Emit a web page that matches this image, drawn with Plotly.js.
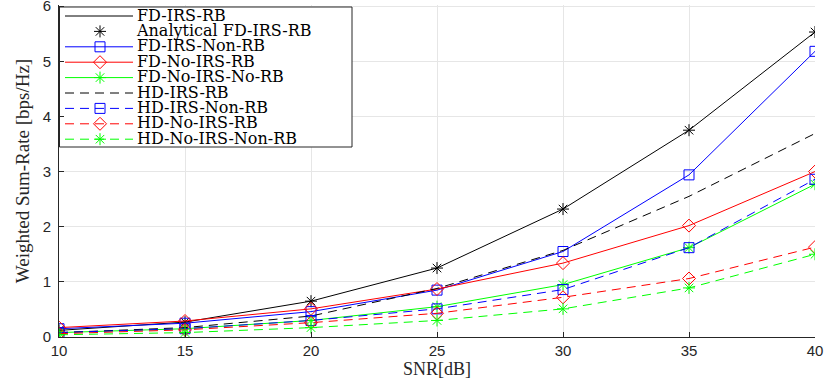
<!DOCTYPE html>
<html>
<head>
<meta charset="utf-8">
<script src="https://cdn.plot.ly/plotly-3.0.1.min.js"></script>
<style>
  body { margin: 0; background: #fff; }
  #graph { width: 831px; height: 382px; }
</style>
</head>
<body>
<div id="graph"></div>
<script>
var snr = [10, 15, 20, 25, 30, 35, 40];
var yTicks = [0, 1, 2, 3, 4, 5, 6];

var fdIrsRb = [0.12, 0.27, 0.65, 1.25, 2.32, 3.75, 5.53];
var fdIrsRbAnalytic = [0.12, 0.27, 0.65, 1.25, 2.32, 3.75, 5.53];
var fdIrsNonRb = [0.15, 0.25, 0.46, 0.85, 1.55, 2.94, 5.18];
var fdNoIrsRb = [0.17, 0.29, 0.51, 0.87, 1.34, 2.02, 3.0];
var fdNoIrsNoRb = [0.08, 0.15, 0.3, 0.55, 0.95, 1.62, 2.77];
var hdIrsRb = [0.08, 0.17, 0.38, 0.88, 1.57, 2.55, 3.69];
var hdIrsNonRb = [0.08, 0.15, 0.3, 0.51, 0.86, 1.62, 2.86];
var hdNoIrsRb = [0.06, 0.13, 0.26, 0.43, 0.72, 1.06, 1.63];
var hdNoIrsNonRb = [0.04, 0.08, 0.17, 0.3, 0.51, 0.89, 1.5];

var dashPat = '9px,6px';
var serif = 'Liberation Serif, Times New Roman, serif';

// plot box in pixels (matches the margins below)
var W = 831, H = 382, ML = 59, MR = 16, MT = 5, MB = 45;
var xRange = [10, 40], yRange = [0, 6.02];
function xOf(px) { return xRange[0] + (px - ML) / (W - ML - MR) * (xRange[1] - xRange[0]); }
function yOf(py) { return yRange[1] - (py - MT) / (H - MT - MB) * (yRange[1] - yRange[0]); }

function series(name, y, color, dash, symbol, mode) {
  var tr = {
    x: snr, y: y, name: name,
    mode: mode || (symbol ? 'lines+markers' : 'lines'),
    line: { color: color, width: 1, dash: dash }
  };
  if (symbol) tr.marker = { symbol: symbol, size: 10, color: color, line: { color: color, width: 1 } };
  return tr;
}

var data = [
  series('FD-IRS-RB', fdIrsRb, '#000000', 'solid'),
  series('Analytical FD-IRS-RB', fdIrsRbAnalytic, '#000000', 'solid', 'asterisk-open', 'markers'),
  series('FD-IRS-Non-RB', fdIrsNonRb, '#0000ff', 'solid', 'square-open'),
  series('FD-No-IRS-RB', fdNoIrsRb, '#ff0000', 'solid', 'diamond-open'),
  series('FD-No-IRS-No-RB', fdNoIrsNoRb, '#00ff00', 'solid', 'asterisk-open'),
  series('HD-IRS-RB', hdIrsRb, '#000000', dashPat),
  series('HD-IRS-Non-RB', hdIrsNonRb, '#0000ff', dashPat, 'square-open'),
  series('HD-No-IRS-RB', hdNoIrsRb, '#ff0000', dashPat, 'diamond-open'),
  series('HD-No-IRS-Non-RB', hdNoIrsNonRb, '#00ff00', dashPat, 'asterisk-open')
];

// MATLAB-style compact legend (plotly's own legend rows are too tall)
var leg = { left: 59.5, right: 352, top: 7, bottom: 147, row0: 16, step: 15.4, lx0: 65, lx1: 133, mx: 100, tx: 140 };
var shapes = [{
  type: 'rect', layer: 'between', xref: 'x', yref: 'y',
  x0: xOf(leg.left), x1: xOf(leg.right), y0: yOf(leg.top), y1: yOf(leg.bottom),
  fillcolor: '#ffffff', line: { color: '#262626', width: 1 }
}];
var legendMarks = [];
var labels = { x: [], y: [], text: [], mode: 'text', textposition: 'middle right', showlegend: false,
  hoverinfo: 'skip', cliponaxis: false, textfont: { family: 'DejaVu Serif, serif', size: 16, color: '#000000' } };
data.forEach(function (tr, i) {
  var py = leg.row0 + i * leg.step;
  if (tr.mode.indexOf('lines') >= 0) {
    shapes.push({
      type: 'line', layer: 'between', xref: 'x', yref: 'y',
      x0: xOf(leg.lx0), x1: xOf(leg.lx1), y0: yOf(py), y1: yOf(py),
      line: { color: tr.line.color, width: 1, dash: tr.line.dash }
    });
  }
  if (tr.marker) {
    legendMarks.push({
      x: [xOf(leg.mx)], y: [yOf(py)], mode: 'markers', showlegend: false,
      hoverinfo: 'skip', marker: tr.marker
    });
  }
  labels.x.push(xOf(leg.tx - 3));
  labels.y.push(yOf(py + 0.5));
  labels.text.push(tr.name);
});

var layout = {
  width: W, height: H,
  margin: { l: ML, r: MR, t: MT, b: MB },
  paper_bgcolor: '#ffffff', plot_bgcolor: '#ffffff',
  font: { family: 'Liberation Sans, Arial, sans-serif', size: 15, color: '#262626' },
  showlegend: false,
  shapes: shapes,
  xaxis: {
    range: xRange, tickvals: snr, ticks: 'inside', ticklen: 5, tickcolor: '#262626',
    ticklabeloverflow: 'allow',
    showline: true, linecolor: '#262626', linewidth: 1, mirror: false,
    showgrid: true, gridcolor: '#e6e6e6', zeroline: false,
    title: { text: 'SNR[dB]', font: { family: serif, size: 18, color: '#262626' }, standoff: 2 }
  },
  yaxis: {
    range: yRange, tickvals: yTicks, ticks: 'inside', ticklen: 5, tickcolor: '#262626',
    ticklabelstandoff: 4, ticklabeloverflow: 'allow',
    showline: true, linecolor: '#262626', linewidth: 1, mirror: false,
    showgrid: true, gridcolor: '#e6e6e6', zeroline: false,
    title: { text: 'Weighted Sum-Rate [bps/Hz]', font: { family: serif, size: 19, color: '#262626' }, standoff: 8 }
  }
};

Plotly.newPlot('graph', data.concat(legendMarks, [labels]), layout, { displayModeBar: false, staticPlot: true });
</script>
</body>
</html>
